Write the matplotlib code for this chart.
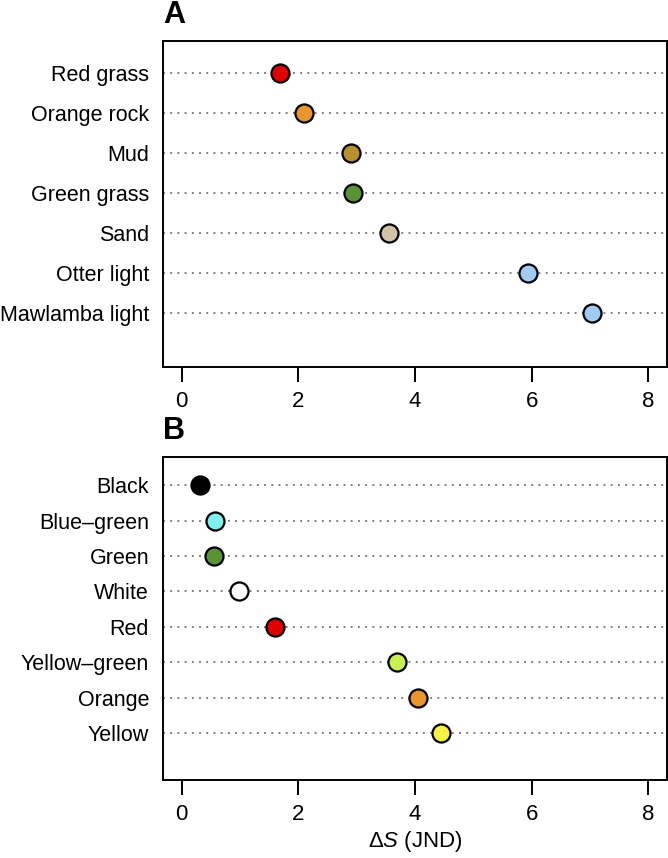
import matplotlib
matplotlib.use("Agg")
import matplotlib.pyplot as plt

plt.rcParams["font.family"] = ["Liberation Sans", "DejaVu Sans"]
plt.rcParams["mathtext.fontset"] = "custom"
plt.rcParams["mathtext.rm"] = "Liberation Sans"
plt.rcParams["mathtext.it"] = "Liberation Sans:italic"

# Panel A: backgrounds
bg_labels = ["Red grass", "Orange rock", "Mud", "Green grass", "Sand",
             "Otter light", "Mawlamba light"]
bg_values = [1.69, 2.10, 2.90, 2.94, 3.55, 5.94, 7.03]
bg_colors = ["#e00000", "#e8962e", "#b8902e", "#5a9236", "#d2c3a8",
             "#a0ccf4", "#a0ccf4"]

# Panel B: colour patches
col_labels = ["Black", "Blue\u2013green", "Green", "White", "Red",
              "Yellow\u2013green", "Orange", "Yellow"]
col_values = [0.32, 0.57, 0.56, 0.99, 1.60, 3.69, 4.05, 4.45]
col_colors = ["#000000", "#80f0f0", "#5a9236", "#ffffff", "#e00000",
              "#c8f050", "#e8962e", "#f8f040"]

xticks = [0, 2, 4, 6, 8]

fig = plt.figure(figsize=(6.68, 8.58), dpi=100)
ax_a = fig.add_axes([0.244, 0.5728, 0.7545, 0.3791])
ax_b = fig.add_axes([0.244, 0.0909, 0.7545, 0.3765])


def dotpanel(ax, labels, values, colors, letter):
    n = len(labels)
    ypos = list(range(1, n + 1))
    for y in ypos:
        ax.axhline(y, color="#6e6e6e", lw=1.3, linestyle=(0, (1, 3)), zorder=1)
    for y, v, c in zip(ypos, values, colors):
        ax.plot(v, y, "o", ms=13, mfc=c, mec="black", mew=1.6, zorder=3)
    ax.set_xlim(-0.32, 8.32)
    ax.set_ylim(n + 1.33, 0.2)
    ax.set_yticks(ypos)
    ax.set_yticklabels(labels, fontsize=15.5)
    ax.tick_params(axis="y", length=0, pad=10)
    ax.set_xticks(xticks)
    ax.set_xticklabels([str(t) for t in xticks], fontsize=16)
    ax.tick_params(axis="x", length=10.5, width=1.4, pad=7, direction="out")
    for s in ax.spines.values():
        s.set_linewidth(1.4)
    ax.text(0.0, 1.035, letter, transform=ax.transAxes, fontsize=22,
            fontweight="bold", ha="left", va="bottom")


dotpanel(ax_a, bg_labels, bg_values, bg_colors, "A")
dotpanel(ax_b, col_labels, col_values, col_colors, "B")
ax_b.set_xlabel(r"$\Delta\mathit{S}$ (JND)", fontsize=16, labelpad=3)

fig.savefig("out.png", dpi=100)
